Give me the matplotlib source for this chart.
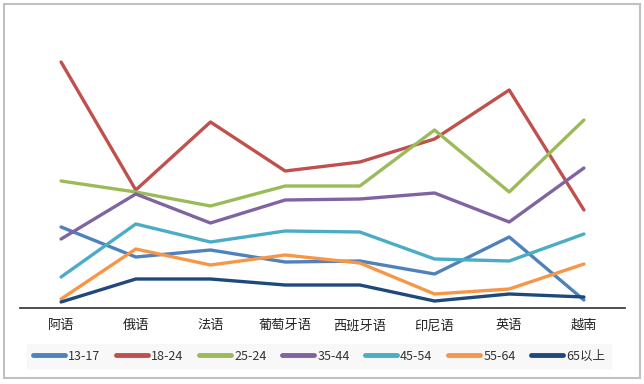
import matplotlib
matplotlib.use("Agg")
import matplotlib.pyplot as plt
from matplotlib.patches import Rectangle

plt.rcParams['font.family'] = ['Noto Sans CJK SC', 'DejaVu Sans']

categories = ['阿语', '俄语', '法语', '葡萄牙语', '西班牙语', '印尼语', '英语', '越南']
series_names = ['13-17', '18-24', '25-24', '35-44', '45-54', '55-64', '65以上']
s_13_17 = [81, 51, 58, 46, 47, 34, 71, 8]
s_18_24 = [246, 118, 186, 137, 146, 169, 218, 98]
s_25_24 = [127, 116, 102, 122, 122, 178, 116, 188]
s_35_44 = [69, 114, 85, 108, 109, 115, 86, 140]
s_45_54 = [31, 84, 66, 77, 76, 49, 47, 74]
s_55_64 = [9, 59, 43, 53, 45, 14, 19, 44]
s_65_up = [6, 29, 29, 23, 23, 7, 14, 11]
series_values = [s_13_17, s_18_24, s_25_24, s_35_44, s_45_54, s_55_64, s_65_up]
colors = ['#4F81BD', '#C0504D', '#9BBB59', '#8064A2', '#4BACC6', '#F79646', '#1F497D']

fig = plt.figure(figsize=(6.44, 3.84), dpi=100)
ax = fig.add_axes([20/644, (384-308)/384, 605/644, 288/384])
x = list(range(len(categories)))
for name, vals, c in zip(series_names, series_values, colors):
    ax.plot(x, vals, color=c, lw=2.4, label=name,
            solid_capstyle='round', solid_joinstyle='round')

ax.set_xlim(-0.55, 7.55)
ax.set_ylim(0, 288)
for sp in ['top', 'right', 'left']:
    ax.spines[sp].set_visible(False)
ax.spines['bottom'].set_color('#404040')
ax.spines['bottom'].set_linewidth(1.3)
ax.set_yticks([])
ax.set_xticks(x)
ax.set_xticklabels(categories, fontsize=9.5, color='#222222')
ax.tick_params(axis='x', length=0, pad=8)

leg = fig.legend(loc='center', bbox_to_anchor=(319/644, 1 - 356/384), ncol=7,
                 fontsize=9, frameon=True, handlelength=2.6, handletextpad=0.25,
                 columnspacing=1.2, borderpad=0.45, fancybox=False)
leg.get_frame().set_facecolor('#F7F7F7')
leg.get_frame().set_edgecolor('#F7F7F7')
for h in leg.get_lines():
    h.set_linewidth(3.5)
    h.set_solid_capstyle('round')
for t in leg.get_texts():
    t.set_color('#333333')

fig.patches.append(Rectangle((4/644, 1 - 378/384), 636/644, 374/384,
                             transform=fig.transFigure, fill=False,
                             edgecolor='#C0C0C0', lw=1.5))
fig.savefig('out.png', dpi=100)
